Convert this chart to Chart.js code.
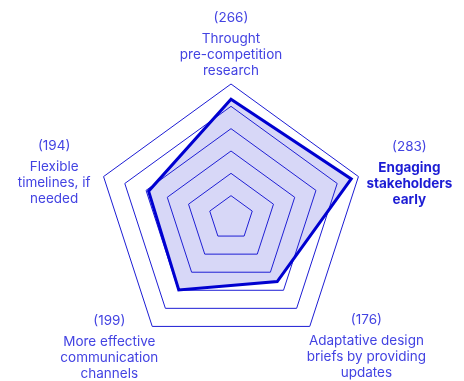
<!DOCTYPE html>
<html>
<head>
<meta charset="utf-8">
<script src="https://cdn.jsdelivr.net/npm/chart.js@4"></script>
<style>
    html, body { margin: 0; padding: 0; background: #ffffff; }
    #wrap { width: 464px; height: 381px; position: relative; }
</style>
</head>
<body>
<div id="wrap"><canvas id="radarChart"></canvas></div>
<script>
// Chart data
const labels = [
    ['Throught', 'pre-competition', 'research'],
    ['Engaging', 'stakeholders', 'early'],
    ['Adaptative design', 'briefs by providing', 'updates'],
    ['More effective', 'communication', 'channels'],
    ['Flexible', 'timelines, if', 'needed']
];
const values = [266, 283, 176, 199, 194];
const highlighted = [1];   // label drawn in bold
const scaleMax = 300;
const scaleStep = 50;

const BLUE = '#1c1cd4';
const TEXT_BLUE = '#4343e2';
const FONT_FAMILY = 'Inter, "Noto Sans", sans-serif';

// Draws the value + multi-line label around every spoke, centred lines
const pointLabelPlugin = {
    id: 'pointLabelBlocks',
    afterDraw(chart) {
        const scale = chart.scales.r;
        const ctx = chart.ctx;
        ctx.save();
        ctx.textBaseline = 'middle';
        ctx.textAlign = 'center';

        labels.forEach((lines, i) => {
            const pt = scale.getPointPositionForValue(i, scaleMax);
            const bold = highlighted.includes(i);
            const font = (bold ? '700 ' : '400 ') + '13.5px ' + FONT_FAMILY;
            ctx.font = font;
            const width = Math.max(...lines.map(l => ctx.measureText(l).width));

            let cx, top;
            if (i === 0) {            // top
                cx = pt.x;
                top = pt.y - 66;
            } else if (i === 1) {     // right
                cx = pt.x + 8 + width / 2;
                top = pt.y - 30;
            } else if (i === 2) {     // bottom right
                cx = pt.x - 3 + width / 2;
                top = pt.y - 6;
            } else if (i === 3) {     // bottom left
                cx = pt.x + 6 - width / 2;
                top = pt.y - 5;
            } else {                  // left
                cx = pt.x - 13 - width / 2;
                top = pt.y - 31;
            }

            ctx.font = '400 13.5px ' + FONT_FAMILY;
            ctx.fillStyle = TEXT_BLUE;
            ctx.fillText('(' + values[i] + ')', cx, top);

            ctx.font = font;
            ctx.fillStyle = bold ? BLUE : TEXT_BLUE;
            lines.forEach((line, j) => {
                ctx.fillText(line, cx, top + 21 + j * 16);
            });
        });
        ctx.restore();
    }
};

new Chart(document.getElementById('radarChart'), {
    type: 'radar',
    data: {
        labels: labels,
        datasets: [{
            data: values,
            borderColor: '#0000d0',
            backgroundColor: 'rgba(40, 40, 210, 0.19)',
            borderWidth: 3,
            borderJoinStyle: 'miter',
            pointRadius: 0,
            fill: true
        }]
    },
    options: {
        responsive: true,
        maintainAspectRatio: false,
        animation: false,
        layout: {
            padding: { left: 97, right: 99, top: 84, bottom: 29 }
        },
        plugins: {
            legend: { display: false },
            tooltip: { enabled: false }
        },
        scales: {
            r: {
                min: 0,
                max: scaleMax,
                ticks: { display: false, stepSize: scaleStep },
                angleLines: { display: false },
                grid: { color: BLUE, lineWidth: 1 },
                pointLabels: { display: false }
            }
        }
    },
    plugins: [pointLabelPlugin]
});
</script>
</body>
</html>
